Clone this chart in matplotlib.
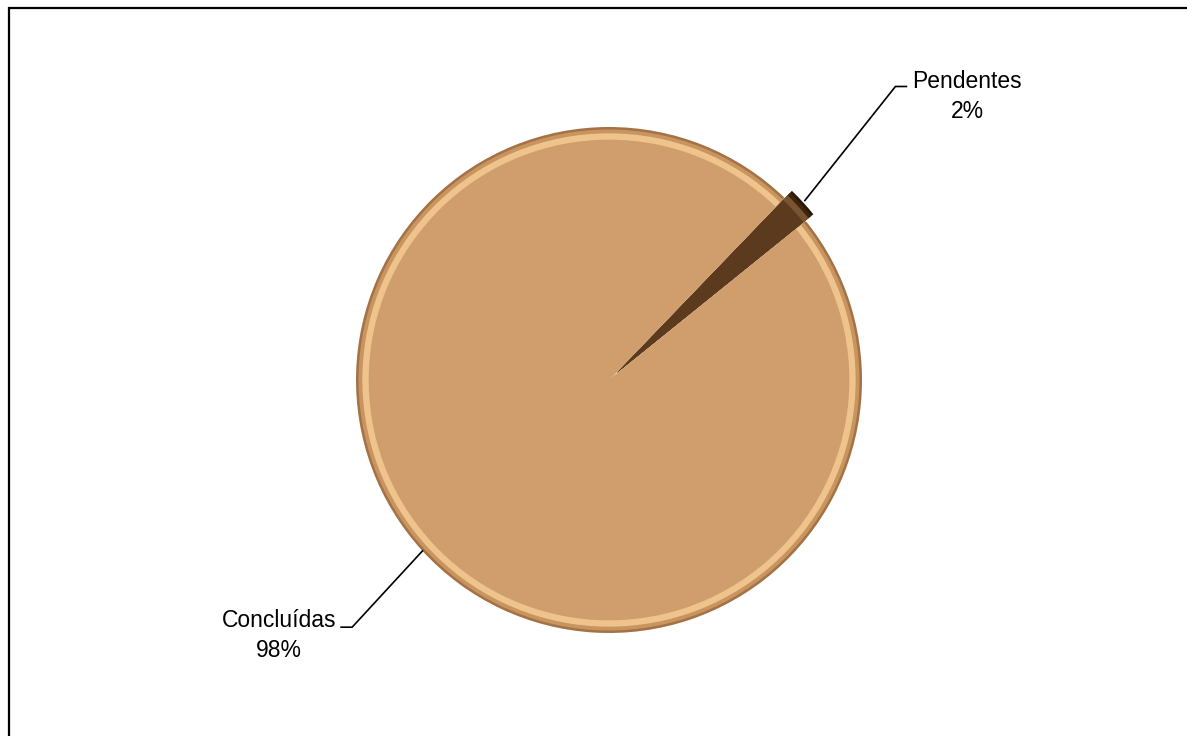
import numpy as np
import matplotlib.pyplot as plt
from matplotlib.patches import Rectangle

# dados
categorias = ['Concluídas', 'Pendentes']
valores = [98, 2]
percentuais = ['98%', '2%']

# camadas de cor (borda escura -> brilho -> base) para imitar o bisel
camadas = [
    (1.000, ['#A47244', '#2A1708']),
    (0.990, ['#C8945F', '#3E2510']),
    (0.975, ['#EEC48C', '#7A5330']),
    (0.950, ['#D09E6C', '#5B3A1E']),
]

plt.rcParams['font.family'] = ['Liberation Sans', 'DejaVu Sans']

W, H = 1187, 736
fig = plt.figure(figsize=(W / 100, H / 100), dpi=100)
ax = fig.add_axes([0, 0, 1, 1])

# centro e raio da pizza em pixels
cx, cy, R = 609, 380, 253
explode = [0, 0.04]
inicio = 46.1

for raio, cores in camadas:
    ax.pie(valores, radius=raio, colors=cores, startangle=inicio,
           explode=explode, counterclock=True,
           wedgeprops=dict(linewidth=0))

ax.set_xlim(-cx / R, (W - cx) / R)
ax.set_ylim(-(H - cy) / R, cy / R)
ax.set_aspect('equal', adjustable='box')
ax.axis('off')

# rótulos com linhas de chamada (r0 = início, r1/da = cotovelo, dx = traço horizontal)
pos_rotulo = {
    'Concluídas': dict(r0=1.0, r1=1.409, da=1.4, dx=-11, dy=0),
    'Pendentes': dict(r0=1.05, r1=1.621, da=3.2, dx=11, dy=-2),
}
passo = 30  # distância entre linhas do rótulo, px
total = sum(valores)
acum = 0
for cat, v, p in zip(categorias, valores, percentuais):
    meio = inicio + 360 * (acum + v / 2) / total
    acum += v
    cfg = pos_rotulo[cat]
    a0 = np.deg2rad(meio)
    a1 = np.deg2rad(meio + cfg['da'])
    x0, y0 = cfg['r0'] * np.cos(a0), cfg['r0'] * np.sin(a0)
    x1, y1 = cfg['r1'] * np.cos(a1), cfg['r1'] * np.sin(a1)
    x2 = x1 + cfg['dx'] / R
    ax.plot([x0, x1, x2], [y0, y1, y1], color='black', lw=1.2,
            solid_joinstyle='miter')
    yt = y1 + (cfg['dy'] - passo) / R
    if cfg['dx'] > 0:
        ax.text(x2 + 6 / R, yt, cat + '\n' + p, ha='left', va='baseline',
                fontsize=16.5, linespacing=1.4, multialignment='center')
    else:
        ax.text(x2 - 5 / R, yt, cat + '\n' + p, ha='right', va='baseline',
                fontsize=16.5, linespacing=1.4, multialignment='center')

# moldura do gráfico
fig.patches.append(Rectangle((9.5 / W, -0.05), 1.2, (H - 7.5) / H + 0.05,
                             transform=fig.transFigure, fill=False,
                             edgecolor='black', linewidth=1.6))

fig.savefig('out.png', dpi=100, facecolor='white')
